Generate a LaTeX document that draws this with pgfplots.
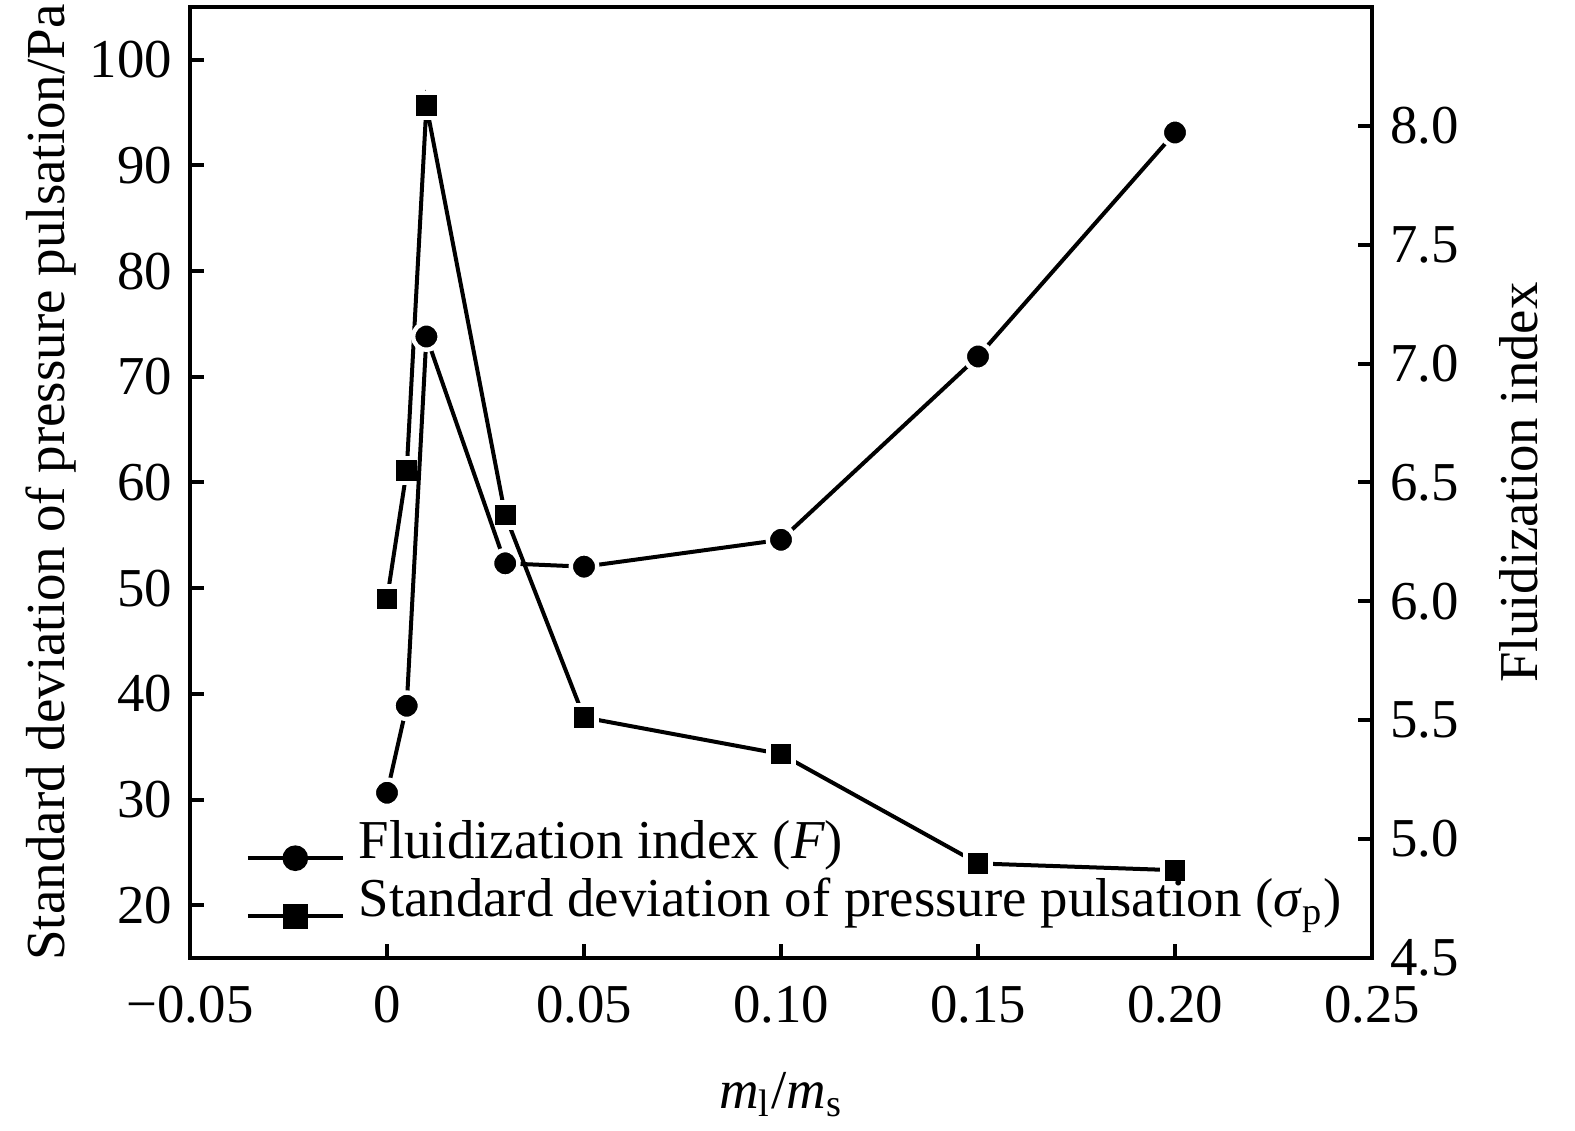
\documentclass[border=0pt]{standalone}
\usepackage{fontspec}
\setmainfont{Liberation Serif}
\usepackage{pgfplots}
\pgfplotsset{compat=1.18}

\pgfplotstableread{
x      sd
0      48.98
0.005  61.13
0.01   95.66
0.03   56.93
0.05   37.77
0.10   34.30
0.15   23.95
0.20   23.31
}\sdtable

\pgfplotstableread{
x      F
0      5.195
0.005  5.561
0.01   7.114
0.03   6.160
0.05   6.146
0.10   6.259
0.15   7.030
0.20   7.972
}\ftable

\pgfplotsset{
  common/.style={
    scale only axis,
    width=295.5pt, height=237.75pt,
    xmin=-0.05, xmax=0.25,
    tick align=inside,
    major tick length=3.5pt,
    axis line style={line width=1pt},
    every tick/.style={black, line width=1pt},
    /pgf/number format/assume math mode=true,
    tick label style={font=\fontsize{13.7}{16}\selectfont},
    label style={font=\fontsize{13.7}{16}\selectfont},
  },
  markstyle/.style={line width=1pt, black,
    mark options={solid, fill=black, draw=white, line width=1.1pt}},
}

\begin{document}
\begin{tikzpicture}[font=\fontsize{13.7}{16}\selectfont]
\begin{axis}[
  common,
  ymin=15, ymax=105,
  ytick={20,30,...,100},
  xtick={-0.05,0,0.05,0.10,0.15,0.20,0.25},
  xticklabels={−0.05,0,0.05,0.10,0.15,0.20,0.25},
  xtick pos=bottom, ytick pos=left,
  xticklabel style={yshift=-3.5pt},
  yticklabel style={xshift=-1pt},
  xlabel={\textit{m}\textsubscript{l}/\textit{m}\textsubscript{s}},
  xlabel style={at={(axis description cs:0.5,0)}, anchor=base, yshift=-37.5pt},
  ylabel={Standard deviation of pressure pulsation/Pa},
  ylabel style={at={(axis description cs:-0.1058,0.5)}, anchor=base, rotate=0, font=\fontsize{13.75}{16}\selectfont},
]
\addplot[markstyle, mark=square*, mark size=3.15pt] table[x=x,y=sd] {\sdtable};
\coordinate (bl) at (rel axis cs:0,0);
\coordinate (tr) at (rel axis cs:1,1);
\end{axis}
\begin{axis}[
  common,
  ymin=4.5, ymax=8.5,
  ytick={4.5,5.0,...,8.0},
  axis x line=none,
  axis y line*=right,
  ytick pos=right,
  yticklabel style={/pgf/number format/fixed, /pgf/number format/fixed zerofill, /pgf/number format/precision=1, xshift=1pt},
  ylabel={Fluidization index},
  ylabel style={at={(axis description cs:1.1404,0.5)}, anchor=base, rotate=0},
  legend cell align=left,
  legend image code/.code={\draw[mark repeat=2,mark phase=2,#1,mark options={solid,fill=black,draw=none,scale=0.82}] plot coordinates {(0pt,0pt) (11.875pt,0pt) (23.75pt,0pt)};},
  legend style={at={(axis description cs:0,0)}, anchor=south west, xshift=13.75pt, yshift=5.75pt,
    draw=none, fill=none, inner sep=0pt, row sep=0pt, column sep=3.5pt,
    nodes={inner sep=0pt, text height=10pt, text depth=4.5pt, anchor=base west},
    font=\fontsize{13.7}{16}\selectfont},
]
\addplot[markstyle, mark=*, mark size=3.3pt] table[x=x,y=F] {\ftable};
\addlegendentry{Fluidization index (\textit{F})}
\addlegendimage{markstyle, mark=square*, mark size=3.15pt}
\addlegendentry{Standard deviation of pressure pulsation (\textit{σ}\textsubscript{p})}
\end{axis}
\pgfresetboundingbox
\path ([shift={(-47.5pt,-43pt)}]bl) rectangle ([shift={(50.75pt,1.75pt)}]tr);
\end{tikzpicture}
\end{document}
